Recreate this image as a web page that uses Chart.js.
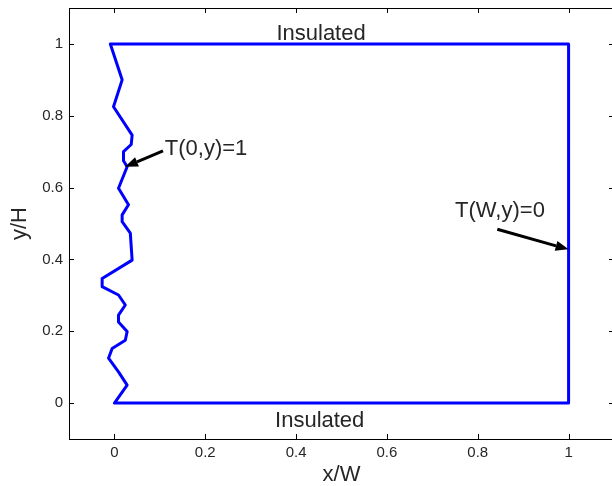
<!DOCTYPE html>
<html>
<head>
<meta charset="utf-8">
<script src="https://cdn.jsdelivr.net/npm/chart.js@4"></script>
<style>
  html, body { margin: 0; padding: 0; background: #fff; overflow: hidden; }
  #wrap { width: 620px; height: 486px; }
</style>
</head>
<body>
<div id="wrap"><canvas id="chartDomain" width="620" height="486"></canvas></div>
<script>
const _ = (id) => document.getElementById(id)

// boundary of the domain, left wall is wavy
const xs = [-0.009, 0.017, -0.002, 0.039, 0.037, 0.02, 0.02, 0.028, 0.009, 0.031, 0.017,
  0.017, 0.035, 0.039, -0.027, -0.027, 0.009, 0.024, 0.009, 0.009, 0.028, 0.024,
  -0.005, -0.013, 0.009, 0.028, 0, 1, 1, -0.009]
const ys = [1, 0.9, 0.825, 0.746, 0.72, 0.7, 0.675, 0.658, 0.598, 0.552, 0.524,
  0.505, 0.473, 0.398, 0.347, 0.324, 0.301, 0.273, 0.245, 0.226, 0.199, 0.175,
  0.152, 0.125, 0.087, 0.05, 0, 0, 1, 1]
const xTicks = [0, 0.2, 0.4, 0.6, 0.8, 1]
const yTicks = [0, 0.2, 0.4, 0.6, 0.8, 1]
const xTickLabels = ['0', '0.2', '0.4', '0.6', '0.8', '1']
const yTickLabels = ['0', '0.2', '0.4', '0.6', '0.8', '1']

const FONT = "'Liberation Sans', Arial, Helvetica, sans-serif"
const INK = '#262626'

const points = xs.map((x, i) => ({ x: x, y: ys[i] }))

function drawArrow(ctx, x1, y1, x2, y2) {
  const ang = Math.atan2(y2 - y1, x2 - x1)
  const len = 13
  const half = 5
  const bx = x2 - len * Math.cos(ang)
  const by = y2 - len * Math.sin(ang)
  ctx.beginPath()
  ctx.moveTo(x1, y1)
  ctx.lineTo(bx, by)
  ctx.lineWidth = 3
  ctx.strokeStyle = '#000'
  ctx.stroke()
  ctx.beginPath()
  ctx.moveTo(x2, y2)
  ctx.lineTo(bx + half * Math.sin(ang), by - half * Math.cos(ang))
  ctx.lineTo(bx - half * Math.sin(ang), by + half * Math.cos(ang))
  ctx.closePath()
  ctx.fillStyle = '#000'
  ctx.fill()
}

const frame = {
  id: 'frame',
  afterDraw(chart) {
    const { ctx, chartArea: a, scales } = chart
    const sx = scales.x
    const sy = scales.y
    ctx.save()
    ctx.strokeStyle = '#000'
    ctx.lineWidth = 1
    ctx.strokeRect(Math.round(a.left) + 0.5, Math.round(a.top) + 0.5,
      Math.round(a.right - a.left), Math.round(a.bottom - a.top))
    const t = 5
    ctx.beginPath()
    xTicks.forEach((v) => {
      const px = Math.round(sx.getPixelForValue(v)) + 0.5
      ctx.moveTo(px, a.bottom)
      ctx.lineTo(px, a.bottom - t)
      ctx.moveTo(px, a.top)
      ctx.lineTo(px, a.top + t)
    })
    yTicks.forEach((v) => {
      const py = Math.round(sy.getPixelForValue(v)) + 0.5
      ctx.moveTo(a.left, py)
      ctx.lineTo(a.left + t, py)
      ctx.moveTo(a.right, py)
      ctx.lineTo(a.right - t, py)
    })
    ctx.stroke()

    // annotations
    const P = (x, y) => [sx.getPixelForValue(x), sy.getPixelForValue(y)]
    ctx.font = '22px ' + FONT
    ctx.fillStyle = INK
    ctx.textBaseline = 'alphabetic'
    ctx.textAlign = 'center'
    let p = P(0.455, 1.011)
    ctx.fillText('Insulated', p[0], p[1])
    p = P(0.452, -0.066)
    ctx.fillText('Insulated', p[0], p[1])
    ctx.textAlign = 'left'
    p = P(0.111, 0.691)
    ctx.fillText('T(0,y)=1', p[0], p[1])
    p = P(0.75, 0.518)
    ctx.fillText('T(W,y)=0', p[0], p[1])

    let a1 = P(0.107, 0.702)
    let a2 = P(0.0233, 0.658)
    drawArrow(ctx, a1[0], a1[1], a2[0], a2[1])
    a1 = P(0.843, 0.484)
    a2 = P(1.0, 0.428)
    drawArrow(ctx, a1[0], a1[1], a2[0], a2[1])
    ctx.restore()
  },
}

new Chart(_('chartDomain'), {
  type: 'scatter',
  data: {
    datasets: [
      {
        data: points,
        showLine: true,
        borderColor: '#0000ff',
        borderWidth: 3,
        borderJoinStyle: 'round',
        borderCapStyle: 'round',
        pointRadius: 0,
        fill: false,
        tension: 0,
      },
    ],
  },
  options: {
    responsive: false,
    animation: false,
    layout: { padding: { top: 8, right: 6, left: 0, bottom: 0 } },
    plugins: {
      legend: { display: false },
      tooltip: { enabled: false },
    },
    scales: {
      x: {
        type: 'linear',
        min: -0.1,
        max: 1.1,
        afterBuildTicks: (s) => { s.ticks = xTicks.map((v) => ({ value: v })) },
        afterFit: (s) => {
          s.height = 47
          s.paddingLeft = 0
          s.paddingRight = 0
        },
        grid: { display: false, drawTicks: false },
        border: { display: false },
        ticks: {
          padding: 5,
          color: INK,
          font: { family: FONT, size: 15 },
          callback: (v) => xTickLabels[xTicks.indexOf(v)],
        },
        title: {
          display: true,
          text: 'x/W',
          color: INK,
          font: { family: FONT, size: 22, lineHeight: 1 },
          padding: { top: 0, bottom: 0 },
        },
      },
      y: {
        type: 'linear',
        min: -0.1,
        max: 1.1,
        afterBuildTicks: (s) => { s.ticks = yTicks.map((v) => ({ value: v })) },
        afterFit: (s) => {
          s.width = 69
          s.paddingTop = 0
          s.paddingBottom = 0
        },
        grid: { display: false, drawTicks: false },
        border: { display: false },
        ticks: {
          padding: 6,
          color: INK,
          font: { family: FONT, size: 15 },
          callback: (v) => yTickLabels[yTicks.indexOf(v)],
        },
        title: {
          display: true,
          text: 'y/H',
          color: INK,
          font: { family: FONT, size: 22, lineHeight: 1 },
          padding: { top: 9, bottom: 0 },
        },
      },
    },
  },
  plugins: [frame],
})
</script>
</body>
</html>
